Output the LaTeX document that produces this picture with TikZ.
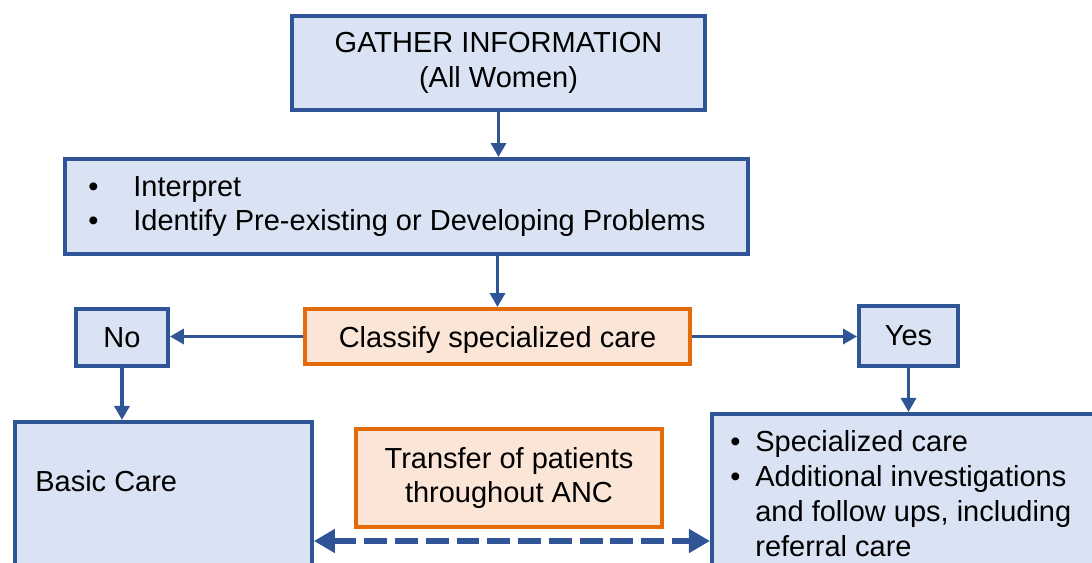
\documentclass[tikz,border=0pt]{standalone}
\usepackage{fontspec}
\setmainfont{Liberation Sans}
\usepackage{tikz}
\usetikzlibrary{positioning,calc,arrows.meta}
\definecolor{boxblue}{HTML}{2F5597}
\definecolor{fillblue}{HTML}{DAE3F3}
\definecolor{boxorange}{HTML}{E36C09}
\definecolor{fillorange}{HTML}{FBE5D6}

\begin{document}
\begin{tikzpicture}[
        font=\fontsize{16.5}{19.8}\selectfont,
        bluebox/.style={draw=boxblue, fill=fillblue, line width=2.2pt, inner sep=0pt},
        orangebox/.style={draw=boxorange, fill=fillorange, line width=2.2pt, inner sep=0pt},
        plain/.style={inner sep=0pt},
        flow/.style={draw=boxblue, line width=2.1pt, -{Triangle[length=8pt,width=8.5pt]}},
        transfer/.style={draw=boxblue, line width=3.8pt, dash pattern=on 13pt off 4.5pt,
            {Triangle[length=12pt,width=13pt]}-{Triangle[length=12pt,width=13pt]}}
    ]
        \useasboundingbox (0,0) rectangle (21.84,-11.26);
        \clip (0,0) rectangle (21.84,-11.26);

        \node[bluebox, minimum width=8.26cm, minimum height=1.88cm, align=center] (gather) at (9.97,-1.26) {GATHER INFORMATION\\(All Women)};

        \node[bluebox, minimum width=13.66cm, minimum height=1.9cm] (interp) at (8.13,-4.13) {};
        \node[plain, anchor=west, align=left] (interptext) at (1.76,-4.13) {\makebox[0.9cm][l]{•}Interpret\\\makebox[0.9cm][l]{•}Identify Pre-existing or Developing Problems};

        \node[orangebox, minimum width=7.7cm, minimum height=1.1cm, text depth=0pt] (classify) at (9.95,-6.73) {Classify specialized care};
        \node[bluebox, minimum width=1.84cm, minimum height=1.14cm] (no) at (2.44,-6.75) {No};
        \node[bluebox, minimum width=1.98cm, minimum height=1.2cm] (yes) at (18.17,-6.72) {Yes};

        \node[bluebox, minimum width=5.94cm, minimum height=4cm, anchor=north west] (basic) at (0.26,-8.4) {};
        \node[plain, anchor=west] (basictext) at (0.7,-9.62) {Basic Care};

        \node[bluebox, minimum width=8cm, minimum height=4cm, anchor=north west] (spec) at (14.2,-8.24) {};
        \node[plain, anchor=north west, align=left] (spectext) at (14.6,-8.61) {\makebox[0.5cm][l]{•}Specialized care\\\makebox[0.5cm][l]{•}Additional investigations\\\hspace*{0.5cm}and follow ups, including\\\hspace*{0.5cm}referral care};

        \node[orangebox, minimum width=6.12cm, minimum height=1.96cm, align=center] (transfer) at (10.18,-9.56) {Transfer of patients\\throughout ANC};

        \draw[flow] (gather.south) -- (gather.south |- interp.north);
        \draw[flow] (classify.north |- interp.south) -- (classify.north);
        \draw[flow] (classify.west) -- (classify.west -| no.east);
        \draw[flow] (classify.east) -- (classify.east -| yes.west);
        \draw[flow] (no.south) -- (no.south |- basic.north);
        \draw[flow] (yes.south) -- (yes.south |- spec.north);

        \coordinate (tr) at (0,-10.82);
        \draw[transfer] (basic.east |- tr) -- (spec.west |- tr);
    \end{tikzpicture}
\end{document}
